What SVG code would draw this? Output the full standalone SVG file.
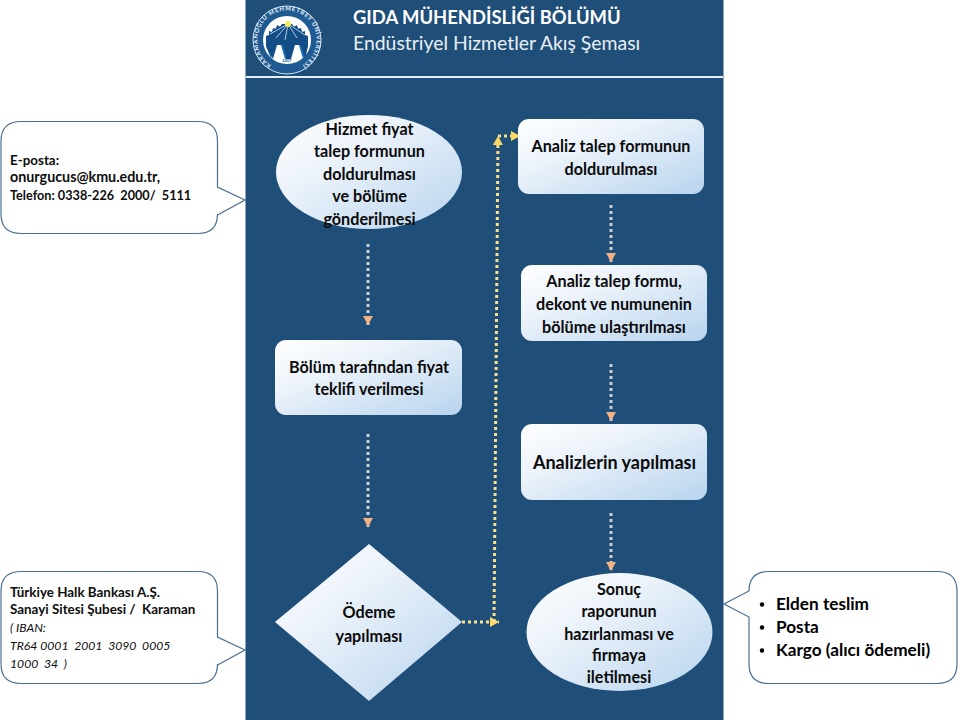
<svg xmlns="http://www.w3.org/2000/svg" width="960" height="720" viewBox="0 0 960 720">
<style>
text{font-family:"Lato","Carlito","Liberation Sans",sans-serif;white-space:pre}
.n{font-weight:700;font-size:17.5px;fill:#0a0a0a;text-anchor:middle}
.c{font-weight:700;font-size:13.4px;fill:#0d0d0d}
.i{font-style:italic;font-weight:400;font-size:12.2px;fill:#0d0d0d}
.b{font-weight:700;font-size:17.200px;fill:#000}
.call{fill:#fff;stroke:#4a6f92;stroke-width:1.2}
.shape{fill:url(#g)}
.dg{fill:none;stroke:#cfcfcf;stroke-width:3;stroke-dasharray:3 3;marker-end:url(#ao)}
.dy{fill:none;stroke:#ffe08a;stroke-width:3;stroke-dasharray:3 3}
</style>
<defs>
<linearGradient id="g" x1="0" y1="0" x2="1" y2="1"><stop offset="0" stop-color="#ffffff"/><stop offset="0.35" stop-color="#ecf3fa"/><stop offset="1" stop-color="#b8d4ee"/></linearGradient>
<marker id="ao" markerUnits="userSpaceOnUse" markerWidth="10" markerHeight="10" refX="9" refY="5" orient="auto"><path d="M0 0L9 5L0 10z" fill="#f4b183"/></marker>
<marker id="ay" markerUnits="userSpaceOnUse" markerWidth="10" markerHeight="10" refX="9" refY="5" orient="auto"><path d="M0 0L9 5L0 10z" fill="#ffd966"/></marker>
<path id="ring" d="M287 69.500A29.500 29.500 0 1 1 287.100 69.500"/>
</defs>
<rect width="960" height="720" fill="#fff"/>
<rect x="245.500" y="0" width="478" height="720" fill="#1f4e79"/>
<rect x="246" y="76" width="477" height="2" fill="#e6edf3"/>
<g id="logo">
<circle cx="287" cy="40" r="34" fill="#1f5a92" stroke="#cfe0ee" stroke-width="1"/>
<circle cx="287" cy="40" r="24" fill="#fff"/>
<path d="M266 46A21 21 0 0 1 308 46L303 59L299 45H293L289 59H285L281 45H275L271 59z" fill="#1a6cb3"/>
<path d="M266 46V36l3-1v-4l3 1 1-4 3 1 1-4 3 2 2-3h10l2 3 3-2 1 4 3-1 1 4 3-1v4l3 1v10l-3 13-4-14h-6l-4 14h-4l-4-14h-6l-4 14z" fill="#134d85"/>
<path d="M288 24L270 34M288 24L276 38M288 24L285 40M288 24L297 38M288 24L305 35" stroke="#d5e9f8" stroke-width="0.8"/>
<circle cx="288" cy="24" r="3" fill="#f6ee5a"/>
<text font-size="6" font-weight="700" fill="#e8f0f7" textLength="152"><textPath href="#ring" startOffset="9%">KARAMANOĞLU MEHMETBEY ÜNİVERSİTESİ</textPath></text>
<text x="287" y="62" font-size="4" font-weight="700" fill="#1f5a92" text-anchor="middle">2007</text>
</g>
<g id="title">
<text x="353" y="24" font-size="18.400" font-weight="700" fill="#fff">GIDA MÜHENDİSLİĞİ BÖLÜMÜ</text>
<text x="353" y="50" font-size="19.400" fill="#e8eef4">Endüstriyel Hizmetler Akış Şeması</text>
</g>
<g id="connectors">
<path class="dg" d="M368 244V325"/>
<path class="dg" d="M368 434V527"/>
<path class="dg" d="M611 205V262"/>
<path class="dg" d="M611 364V421"/>
<path class="dg" d="M611 513V571"/>
<path class="dy" d="M462 622H499" marker-end="url(#ay)"/>
<path class="dy" d="M494 622L498 136" marker-end="url(#ay)"/>
<path class="dy" d="M498 136H520" marker-end="url(#ay)"/>
</g>
<g id="n1"><ellipse class="shape" cx="369" cy="172" rx="93" ry="57"/>
<g transform="translate(369.500 0) scale(.925 1)"><text class="n" x="0" y="135">Hizmet fiyat</text><text class="n" x="0" y="157">talep formunun</text><text class="n" x="0" y="180">doldurulması</text><text class="n" x="0" y="202">ve bölüme</text><text class="n" x="0" y="225">gönderilmesi</text></g></g>
<g id="n2"><rect class="shape" x="275" y="340" width="187" height="75" rx="11"/>
<g transform="translate(369 0) scale(.925 1)"><text class="n" x="0" y="373">Bölüm tarafından fiyat</text><text class="n" x="0" y="395">teklifi verilmesi</text></g></g>
<g id="n3"><path class="shape" d="M369 544L462 622L369 701L275 622z"/>
<g transform="translate(369 0) scale(.925 1)"><text class="n" x="0" y="618">Ödeme</text><text class="n" x="0" y="642">yapılması</text></g></g>
<g id="n4"><rect class="shape" x="518" y="119" width="186" height="75" rx="11"/>
<g transform="translate(611 0) scale(.925 1)"><text class="n" x="0" y="152">Analiz talep formunun</text><text class="n" x="0" y="175">doldurulması</text></g></g>
<g id="n5"><rect class="shape" x="521" y="265" width="186" height="76" rx="11"/>
<g transform="translate(614 0) scale(.925 1)"><text class="n" x="0" y="287">Analiz talep formu,</text><text class="n" x="0" y="310">dekont ve numunenin</text><text class="n" x="0" y="333">bölüme ulaştırılması</text></g></g>
<g id="n6"><rect class="shape" x="521" y="424" width="186" height="76" rx="11"/>
<g transform="translate(614.500 0) scale(.925 1)"><text class="n" x="0" y="469" style="font-size:19.500px">Analizlerin yapılması</text></g></g>
<g id="n7"><ellipse class="shape" cx="619.500" cy="632" rx="93" ry="59"/>
<g transform="translate(619 0) scale(.925 1)"><text class="n" x="0" y="595">Sonuç</text><text class="n" x="0" y="617">raporunun</text><text class="n" x="0" y="640">hazırlanması ve</text><text class="n" x="0" y="661">firmaya</text><text class="n" x="0" y="683">iletilmesi</text></g></g>
<g id="call1"><path class="call" d="M21 121.500H198Q217.500 121.500 217.500 141V187L245 200L217.500 215V214Q217.500 233.500 198 233.500H21Q1 233.500 1 214V141Q1 121.500 21 121.500z"/>
<text class="c" x="10" y="165">E-posta:</text><text class="c" x="10" y="182" style="font-size:14.300px">onurgucus@kmu.edu.tr,</text><text class="c" x="10" y="200" style="font-size:12.700px">Telefon: 0338-226  2000/  5111</text></g>
<g id="call2"><path class="call" d="M21 571.500H198Q217.500 571.500 217.500 591V637L245 650L217.500 665V664Q217.500 683.500 198 683.500H21Q1 683.500 1 664V591Q1 571.500 21 571.500z"/>
<text class="c" x="10" y="597">Türkiye Halk Bankası A.Ş.</text><text class="c" x="10" y="614">Sanayi Sitesi Şubesi /  Karaman</text><text class="i" x="10" y="632">( IBAN:</text><text class="i" x="10" y="650">TR64 0001  2001  3090  0005</text><text class="i" x="10" y="668">1000  34  )</text></g>
<g id="call3"><path class="call" d="M769 571.500H937Q957 571.500 957 591V664Q957 683.500 937 683.500H769Q749 683.500 749 664V617L724 604L749 591Q749 571.500 769 571.500z"/>
<circle cx="762" cy="604.500" r="2.200"/><circle cx="762" cy="627.500" r="2.200"/><circle cx="762" cy="650.500" r="2.200"/>
<text class="b" x="776" y="610">Elden teslim</text><text class="b" x="776" y="633">Posta</text><text class="b" x="776" y="656">Kargo (alıcı ödemeli)</text></g>
</svg>
